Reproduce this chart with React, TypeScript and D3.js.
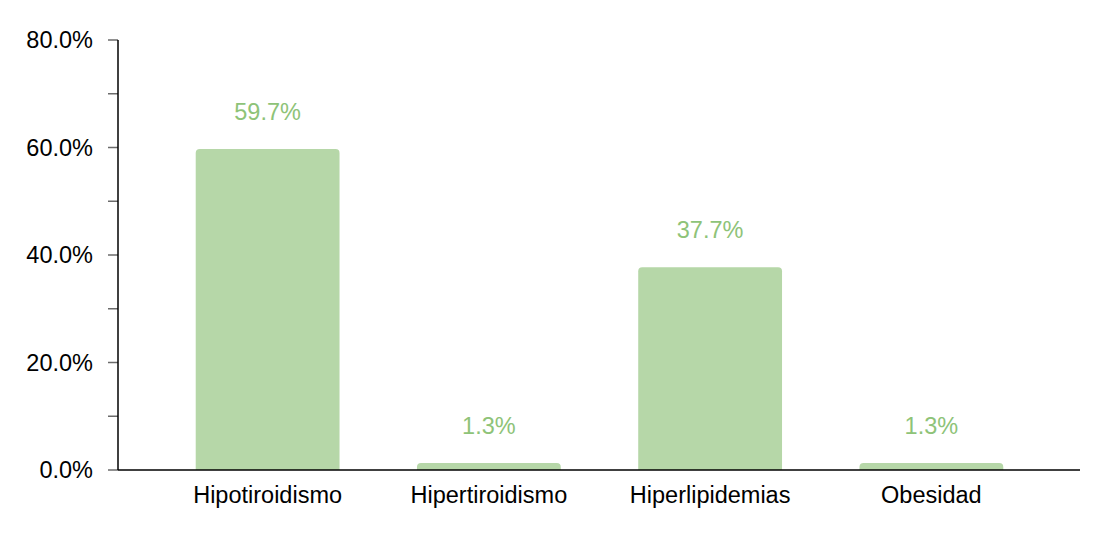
import { useEffect, useRef } from 'react';
import * as d3 from 'd3';

const categories = ['Hipotiroidismo', 'Hipertiroidismo', 'Hiperlipidemias', 'Obesidad'];
const values = [59.7, 1.3, 37.7, 1.3];
const yTicks = [0, 20, 40, 60, 80];
const yMinorTicks = [10, 30, 50, 70];

export default function App() {
  const svgRef = useRef<SVGSVGElement>(null);
  const width = 1108;
  const height = 534;

  useEffect(() => {
    if (!svgRef.current) return;
    const svg = d3.select(svgRef.current);
    svg.selectAll('*').remove();

    const font = 'Liberation Sans, Arial, sans-serif';
    const fontSize = 23.5;
    const axisLeft = 118;
    const axisRight = 1080;

    const y = d3.scaleLinear().domain([0, 80]).range([470, 40]);
    const x = d3.scaleBand<string>()
      .domain(categories)
      .range([157, 1042])
      .paddingInner(0.35)
      .paddingOuter(0.175);

    // y ticks (major + minor)
    const allTicks = [...yTicks, ...yMinorTicks];
    svg.append('g')
      .selectAll('line')
      .data(allTicks)
      .join('line')
      .attr('x1', axisLeft - 10)
      .attr('x2', axisLeft)
      .attr('y1', d => y(d))
      .attr('y2', d => y(d))
      .attr('stroke', '#6b6b6b')
      .attr('stroke-width', 1.5);

    svg.append('g')
      .selectAll('text')
      .data(yTicks)
      .join('text')
      .attr('x', axisLeft - 25)
      .attr('y', d => y(d))
      .attr('text-anchor', 'end')
      .attr('dominant-baseline', 'central')
      .attr('font-family', font)
      .attr('font-size', fontSize)
      .attr('fill', '#000')
      .text(d => d.toFixed(1) + '%');

    // bars with rounded top corners
    const r = 4;
    svg.append('g')
      .selectAll('path')
      .data(values)
      .join('path')
      .attr('fill', '#b6d7a8')
      .attr('d', (d, i) => {
        const x0 = x(categories[i])!;
        const w = x.bandwidth();
        const top = y(d);
        const bottom = y(0);
        const rr = Math.min(r, bottom - top);
        return `M${x0},${bottom} L${x0},${top + rr} Q${x0},${top} ${x0 + rr},${top} L${x0 + w - rr},${top} Q${x0 + w},${top} ${x0 + w},${top + rr} L${x0 + w},${bottom} Z`;
      });

    // value labels
    svg.append('g')
      .selectAll('text')
      .data(values)
      .join('text')
      .attr('x', (d, i) => x(categories[i])! + x.bandwidth() / 2)
      .attr('y', d => y(d) - 37)
      .attr('text-anchor', 'middle')
      .attr('dominant-baseline', 'central')
      .attr('font-family', font)
      .attr('font-size', fontSize)
      .attr('fill', '#8ec378')
      .text(d => d.toFixed(1) + '%');

    // axis lines
    svg.append('line')
      .attr('x1', axisLeft).attr('x2', axisLeft)
      .attr('y1', y(80)).attr('y2', y(0))
      .attr('stroke', '#000').attr('stroke-width', 1.5);
    svg.append('line')
      .attr('x1', axisLeft).attr('x2', axisRight)
      .attr('y1', y(0)).attr('y2', y(0))
      .attr('stroke', '#000').attr('stroke-width', 1.5);

    // category labels
    svg.append('g')
      .selectAll('text')
      .data(categories)
      .join('text')
      .attr('x', d => x(d)! + x.bandwidth() / 2)
      .attr('y', 495)
      .attr('text-anchor', 'middle')
      .attr('dominant-baseline', 'central')
      .attr('font-family', font)
      .attr('font-size', fontSize)
      .attr('fill', '#000')
      .text(d => d);
  }, []);

  return (
    <div style={{ position: 'absolute', left: 0, top: 0, background: '#fff' }}>
      <svg ref={svgRef} width={width} height={height} viewBox={`0 0 ${width} ${height}`} style={{ display: 'block' }} />
    </div>
  );
}
